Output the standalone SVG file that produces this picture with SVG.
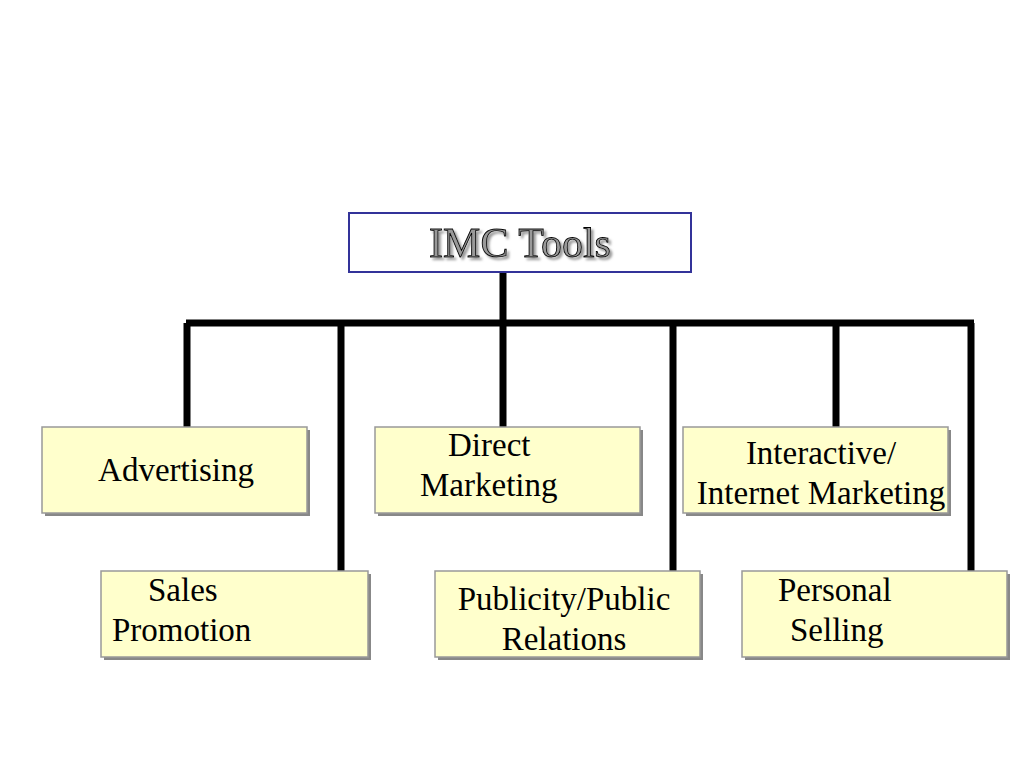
<svg xmlns="http://www.w3.org/2000/svg" width="1024" height="768" viewBox="0 0 1024 768">
<defs>
<filter id="ds" x="-10%" y="-20%" width="130%" height="150%">
<feDropShadow dx="2.5" dy="2.5" stdDeviation="0.8" flood-color="#999"/>
</filter>
</defs>
<style>
.box{fill:#FFFFCC;stroke:#999;stroke-width:1.5}
.sh{fill:#888}
.t{font-family:"Liberation Serif",serif;font-size:33px;fill:#000}
.c{stroke:#000;stroke-width:7;fill:none}
</style>
<rect width="1024" height="768" fill="#fff"/>
<g id="connectors">
<line class="c" x1="503" y1="272" x2="503" y2="323"/>
<line class="c" x1="186" y1="323" x2="974" y2="323"/>
<line class="c" x1="187" y1="323" x2="187" y2="427"/>
<line class="c" x1="341" y1="323" x2="341" y2="571"/>
<line class="c" x1="503" y1="323" x2="503" y2="427"/>
<line class="c" x1="673" y1="323" x2="673" y2="571"/>
<line class="c" x1="836" y1="323" x2="836" y2="427"/>
<line class="c" x1="971" y1="323" x2="971" y2="571"/>
</g>
<g id="imc">
<rect x="349" y="213" width="342" height="59" fill="#fff" stroke="#333399" stroke-width="2"/>
<text x="520" y="257" text-anchor="middle" font-family="Liberation Serif,serif" font-size="42" fill="#999" stroke="#000" stroke-width="0.9" filter="url(#ds)">IMC Tools</text>
</g>
<g id="advertising">
<rect class="sh" x="45" y="430" width="265" height="86"/>
<rect class="box" x="42" y="427" width="265" height="86"/>
<text class="t" x="176" y="481" text-anchor="middle">Advertising</text>
</g>
<g id="direct">
<rect class="sh" x="378" y="430" width="265" height="86"/>
<rect class="box" x="375" y="427" width="265" height="86"/>
<text class="t" x="448" y="456">Direct</text>
<text class="t" x="420" y="496">Marketing</text>
</g>
<g id="interactive">
<rect class="sh" x="686" y="430" width="265" height="86"/>
<rect class="box" x="683" y="427" width="265" height="86"/>
<text class="t" x="821" y="464" text-anchor="middle">Interactive/</text>
<text class="t" x="821" y="504" text-anchor="middle">Internet Marketing</text>
</g>
<g id="sales">
<rect class="sh" x="104" y="574" width="267" height="86"/>
<rect class="box" x="101" y="571" width="267" height="86"/>
<text class="t" x="148" y="601">Sales</text>
<text class="t" x="112" y="641">Promotion</text>
</g>
<g id="publicity">
<rect class="sh" x="438" y="574" width="265" height="86"/>
<rect class="box" x="435" y="571" width="265" height="86"/>
<text class="t" x="564" y="610" text-anchor="middle">Publicity/Public</text>
<text class="t" x="564" y="650" text-anchor="middle">Relations</text>
</g>
<g id="personal">
<rect class="sh" x="745" y="574" width="265" height="86"/>
<rect class="box" x="742" y="571" width="265" height="86"/>
<text class="t" x="778" y="601">Personal</text>
<text class="t" x="790" y="641">Selling</text>
</g>
</svg>
